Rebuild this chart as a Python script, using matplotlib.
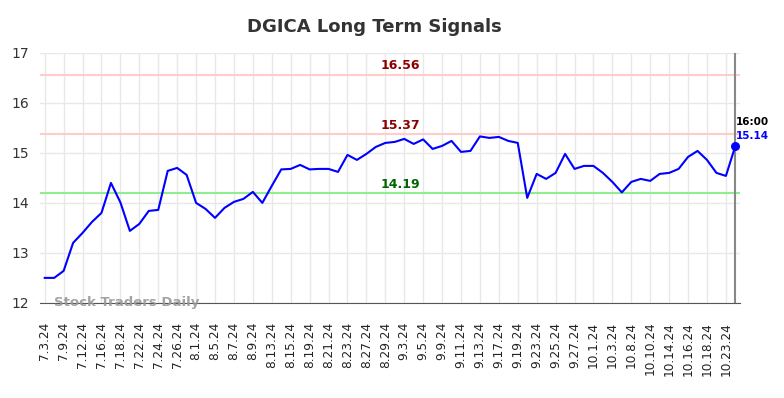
import matplotlib.pyplot as plt
import numpy as np

# datos
fechas = ['7.3.24', '7.9.24', '7.12.24', '7.16.24', '7.18.24', '7.22.24', '7.24.24', '7.26.24',
          '8.1.24', '8.5.24', '8.7.24', '8.9.24', '8.13.24', '8.15.24', '8.19.24', '8.21.24',
          '8.23.24', '8.27.24', '8.29.24', '9.3.24', '9.5.24', '9.9.24', '9.11.24', '9.13.24',
          '9.17.24', '9.19.24', '9.23.24', '9.25.24', '9.27.24', '10.1.24', '10.3.24', '10.8.24',
          '10.10.24', '10.14.24', '10.16.24', '10.18.24', '10.23.24']

precios = [12.50, 12.50, 12.64, 13.20, 13.40, 13.62, 13.80, 14.40, 14.01, 13.44,
           13.58, 13.84, 13.86, 14.64, 14.70, 14.56, 14.00, 13.88, 13.70, 13.90,
           14.02, 14.08, 14.22, 14.00, 14.34, 14.67, 14.68, 14.76, 14.67, 14.68,
           14.68, 14.62, 14.96, 14.86, 14.98, 15.12, 15.20, 15.22, 15.28, 15.18,
           15.27, 15.08, 15.14, 15.24, 15.02, 15.04, 15.33, 15.30, 15.32, 15.24,
           15.20, 14.10, 14.58, 14.48, 14.60, 14.98, 14.68, 14.74, 14.74, 14.60,
           14.42, 14.21, 14.42, 14.48, 14.44, 14.58, 14.60, 14.68, 14.92, 15.04,
           14.86, 14.60, 14.54, 15.14]

resistencias = [16.56, 15.37]
soporte = 14.19

fig = plt.figure(figsize=(7.84, 3.98), dpi=100)
ax = fig.add_axes([0.051, 0.239, 0.893, 0.628])

x = np.arange(len(precios))
ax.plot(x, precios, color='blue', lw=1.5, zorder=3)
ax.scatter([x[-1]], [precios[-1]], color='blue', s=30, zorder=4)

# lineas horizontales
for r in resistencias:
    ax.axhline(r, color='#ffcccc', lw=1.5, zorder=2)
    ax.text(37.6, r + 0.05, f'{r:.2f}', color='#8b0000', fontsize=9, fontweight='bold',
            ha='center', va='bottom')
ax.axhline(soporte, color='#90ee90', lw=1.5, zorder=2)
ax.text(37.6, soporte + 0.05, f'{soporte:.2f}', color='#006400', fontsize=9, fontweight='bold',
        ha='center', va='bottom')

ax.axvline(x[-1], color='#888888', lw=1.5, zorder=2)

ax.text(x[-1], precios[-1] + 0.48, '16:00', color='black', fontsize=7.5, fontweight='bold',
        ha='left', va='center')
ax.text(x[-1], precios[-1] + 0.2, f'{precios[-1]:.2f}', color='blue', fontsize=7.5,
        fontweight='bold', ha='left', va='center')

ax.text(1.0, 12.0, 'Stock Traders Daily', color='#999999', fontsize=9.5, fontweight='bold',
        ha='left', va='center', alpha=0.9)

ax.set_xlim(-0.5, 73.5)
ax.set_ylim(12, 17)
ax.set_yticks([12, 13, 14, 15, 16, 17])
ax.set_xticks(x[::2][:len(fechas)])
ax.set_xticklabels(fechas, rotation=90, fontsize=8.7)
ax.tick_params(axis='y', labelsize=10, length=0, pad=8, colors='#333333')
ax.tick_params(axis='x', length=0, pad=13.5, colors='#222222')
ax.grid(True, color='#e8e8e8', lw=1)
for s in ['top', 'right', 'left']:
    ax.spines[s].set_visible(False)
ax.spines['bottom'].set_color('#555555')

fig.text(0.478, 0.932, 'DGICA Long Term Signals', fontsize=13, fontweight='bold',
         color='#333333', ha='center', va='center')

plt.savefig('out.png', dpi=100)
